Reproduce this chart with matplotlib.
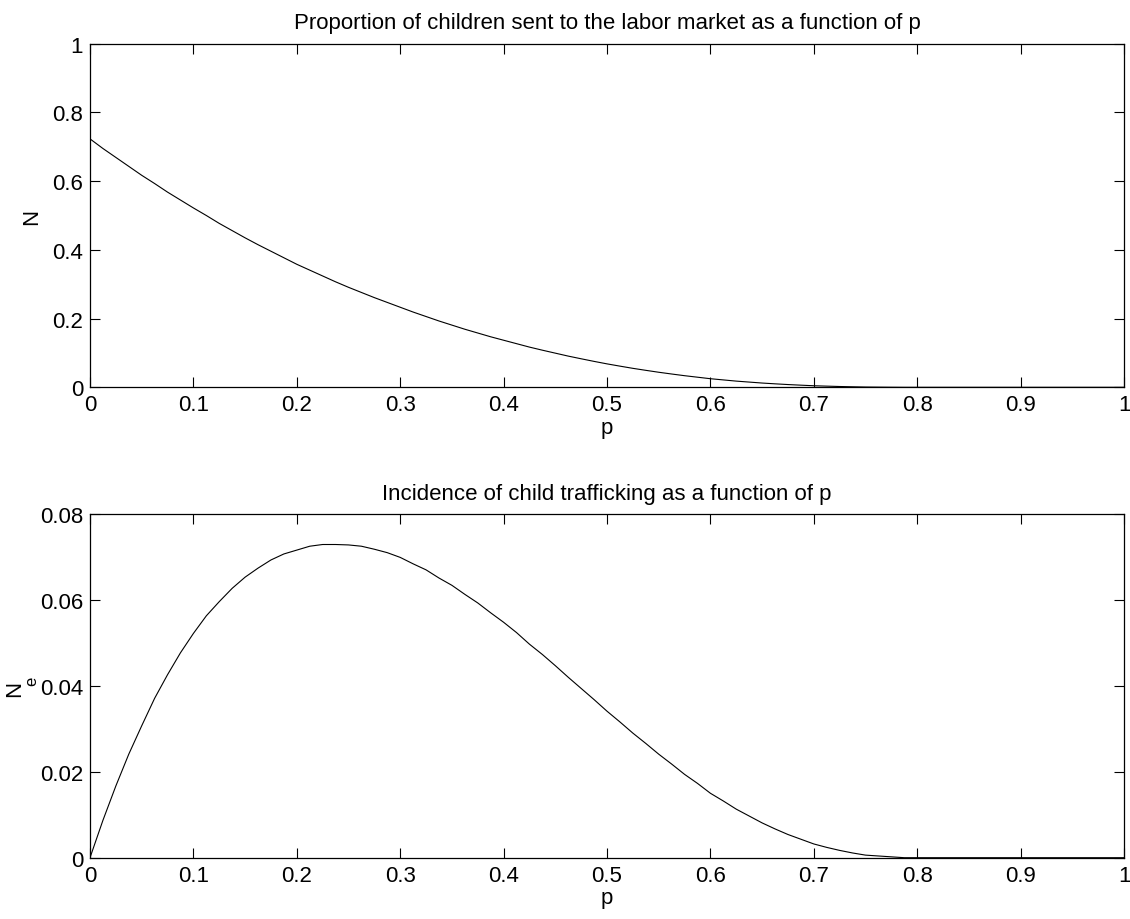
import matplotlib
matplotlib.use("Agg")
from matplotlib import pyplot as plt

plt.rcParams['font.family'] = ['Liberation Sans', 'DejaVu Sans']

# values, p in steps of 0.0125 up to 0.8
p = [0, 0.0125, 0.025, 0.0375, 0.05, 0.0625, 0.075, 0.0875, 0.1, 0.1125,
     0.125, 0.1375, 0.15, 0.1625, 0.175, 0.1875, 0.2, 0.2125, 0.225, 0.2375,
     0.25, 0.2625, 0.275, 0.2875, 0.3, 0.3125, 0.325, 0.3375, 0.35, 0.3625,
     0.375, 0.3875, 0.4, 0.4125, 0.425, 0.4375, 0.45, 0.4625, 0.475, 0.4875,
     0.5, 0.5125, 0.525, 0.5375, 0.55, 0.5625, 0.575, 0.5875, 0.6, 0.6125,
     0.625, 0.6375, 0.65, 0.6625, 0.675, 0.6875, 0.7, 0.7125, 0.725, 0.7375,
     0.75, 0.7625, 0.775, 0.7875, 0.8, 0.9, 1.0]

# proportion sent to the labor market
N = [0.723, 0.695, 0.669, 0.643, 0.617, 0.593, 0.568, 0.545, 0.522, 0.500,
     0.477, 0.456, 0.435, 0.415, 0.396, 0.377, 0.358, 0.341, 0.324, 0.307,
     0.291, 0.276, 0.261, 0.247, 0.233, 0.219, 0.206, 0.193, 0.181, 0.169,
     0.158, 0.147, 0.137, 0.127, 0.117, 0.108, 0.0994, 0.0908, 0.0830, 0.0754,
     0.0682, 0.0616, 0.0552, 0.0494, 0.0438, 0.0387, 0.0338, 0.0294, 0.0250, 0.0215,
     0.0180, 0.0152, 0.0124, 0.0101, 0.0080, 0.0062, 0.0045, 0.0034, 0.0023, 0.0015,
     0.0008, 0.0005, 0.0002, 0.0, 0, 0, 0]

# incidence of trafficking
Ne = [0, 0.0087, 0.0167, 0.0241, 0.0307, 0.0371, 0.0426, 0.0477, 0.0522, 0.0563,
      0.0596, 0.0627, 0.0653, 0.0674, 0.0693, 0.0707, 0.0716, 0.0725, 0.0729, 0.0729,
      0.0728, 0.0725, 0.0718, 0.0710, 0.0699, 0.0684, 0.0670, 0.0651, 0.0634, 0.0613,
      0.0593, 0.0570, 0.0548, 0.0524, 0.0497, 0.0473, 0.0447, 0.0420, 0.0394, 0.0368,
      0.0341, 0.0316, 0.0290, 0.0266, 0.0241, 0.0218, 0.0194, 0.0173, 0.0150, 0.0132,
      0.0113, 0.0097, 0.0081, 0.0067, 0.0054, 0.0043, 0.0032, 0.0024, 0.0017, 0.0011,
      0.0006, 0.0004, 0.0002, 0.0, 0, 0, 0]

x_ticks = [0, 0.1, 0.2, 0.3, 0.4, 0.5, 0.6, 0.7, 0.8, 0.9, 1]
x_labels = ["0", "0.1", "0.2", "0.3", "0.4", "0.5", "0.6", "0.7", "0.8", "0.9", "1"]
top_yticks = [0, 0.2, 0.4, 0.6, 0.8, 1]
top_ylabels = ["0", "0.2", "0.4", "0.6", "0.8", "1"]
bot_yticks = [0, 0.02, 0.04, 0.06, 0.08]
bot_ylabels = ["0", "0.02", "0.04", "0.06", "0.08"]

FS = 16

fig = plt.figure(figsize=(11.3, 9.2), dpi=100)
ax1 = fig.add_axes([90/1130, 1-388.3/920, 1034/1130, 343.6/920])
ax2 = fig.add_axes([90/1130, 1-858.7/920, 1034/1130, 343.7/920])

def style(ax):
    ax.set_xlim(0, 1)
    ax.set_xticks(x_ticks)
    ax.set_xticklabels(x_labels)
    ax.tick_params(direction='in', length=7, width=0.8, top=True, right=True,
                   labelsize=FS, pad=5)
    for s in ax.spines.values():
        s.set_linewidth(0.9)
    ax.set_xlabel("p", fontsize=FS, labelpad=1)

ax1.plot(p, N, color='black', lw=0.8)
style(ax1)
ax1.set_ylim(0, 1)
ax1.set_yticks(top_yticks)
ax1.set_yticklabels(top_ylabels)
ax1.set_title("Proportion of children sent to the labor market as a function of p",
              fontsize=FS, pad=11)
ax1.set_ylabel("N", fontsize=FS)
ax1.yaxis.set_label_coords(-0.046, 0.5)

ax2.plot(p, Ne, color='black', lw=0.8)
style(ax2)
ax2.set_ylim(0, 0.08)
ax2.set_yticks(bot_yticks)
ax2.set_yticklabels(bot_ylabels)
ax2.set_title("Incidence of child trafficking as a function of p", fontsize=FS, pad=11)
ax2.set_ylabel("N", fontsize=FS)
ax2.yaxis.set_label_coords(-0.063, 0.494)
# the raised e of N^e sits just right of the N, as in the original
ax2.text(-0.0565, 0.517, "e", transform=ax2.transAxes, rotation=90,
         fontsize=FS - 4, ha='center', va='center')

fig.savefig("out.png", dpi=100)
